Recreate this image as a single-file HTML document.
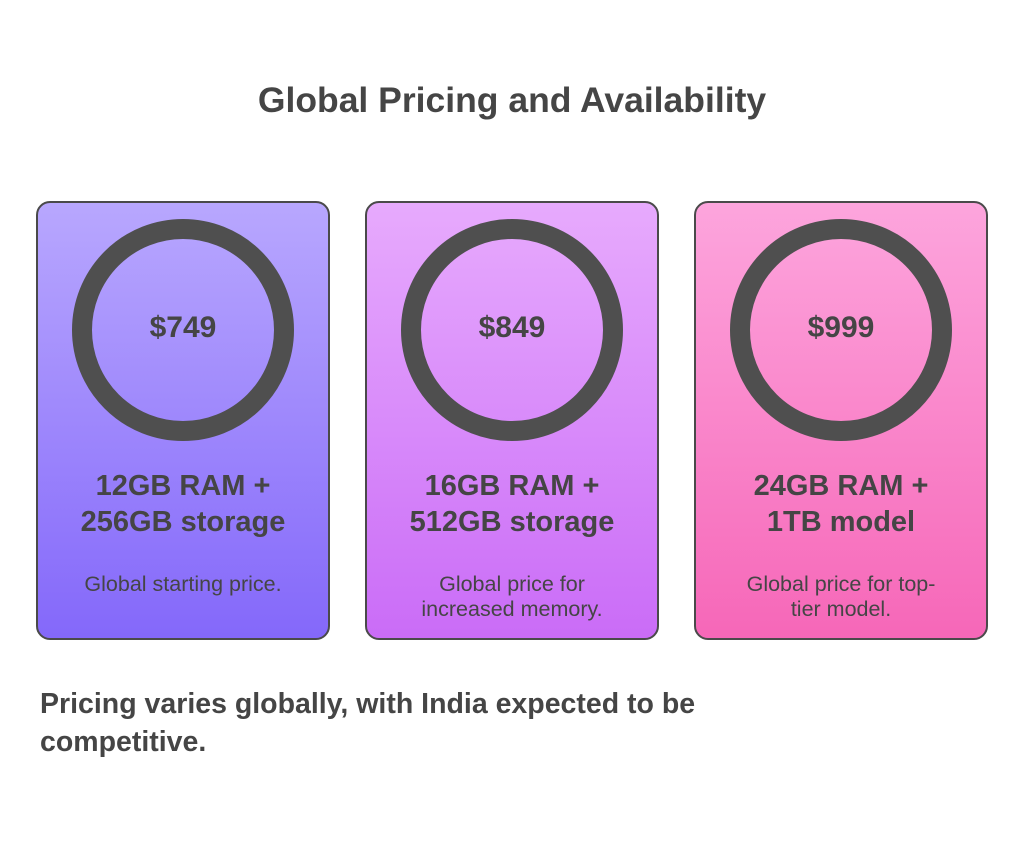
<!DOCTYPE html>
<html><head><style>
body{margin:0;width:1024px;height:848px;background:#fff;font-family:"Liberation Sans",sans-serif;color:#454545;position:relative;overflow:hidden}
.t{position:absolute;left:0;width:1024px;text-align:center;top:80px;font-size:35.5px;font-weight:bold}
.card{position:absolute;top:201px;width:294px;height:439px;border:2.5px solid #4a4a4a;border-radius:14px;box-sizing:border-box}
.ring{position:absolute;left:34px;top:16px;width:222px;height:222px;border:20px solid #4f4f4f;border-radius:50%;box-sizing:border-box}
.p{position:absolute;left:0;width:100%;top:108px;text-align:center;font-size:30px;font-weight:bold}
.h{position:absolute;left:0;width:100%;top:265px;text-align:center;font-size:29px;font-weight:bold;line-height:36px}
.d{position:absolute;left:0;width:100%;top:369px;text-align:center;font-size:21.5px;line-height:25px}
.b{position:absolute;left:40px;top:685px;font-size:28.5px;font-weight:bold;line-height:38px}
</style></head><body>
<div class="t">Global Pricing and Availability</div>
<div class="card" style="left:36px;background:linear-gradient(#b8a7fe,#8468fa)"><div class="ring"></div><div class="p">$749</div><div class="h">12GB RAM +<br>256GB storage</div><div class="d">Global starting price.</div></div>
<div class="card" style="left:365px;background:linear-gradient(#e7aafd,#ca6cf7)"><div class="ring"></div><div class="p">$849</div><div class="h">16GB RAM +<br>512GB storage</div><div class="d">Global price for<br>increased memory.</div></div>
<div class="card" style="left:694px;background:linear-gradient(#fda5dd,#f667b8)"><div class="ring"></div><div class="p">$999</div><div class="h">24GB RAM +<br>1TB model</div><div class="d">Global price for top-<br>tier model.</div></div>
<div class="b">Pricing varies globally, with India expected to be<br>competitive.</div>
</body></html>
